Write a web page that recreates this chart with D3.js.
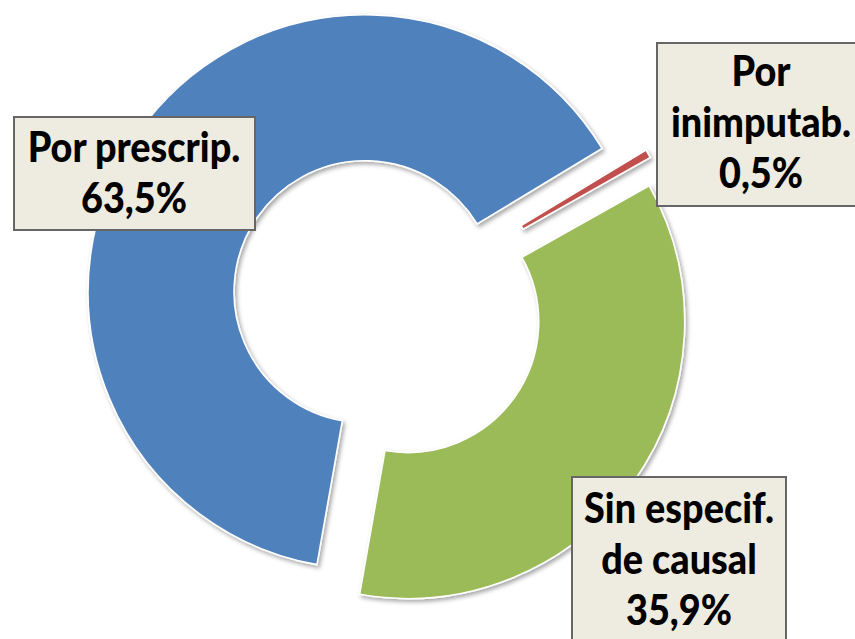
<!DOCTYPE html>
<html>
<head>
<meta charset="utf-8">
<script src="https://cdn.jsdelivr.net/npm/d3@7"></script>
<style>
  html, body { margin: 0; padding: 0; background: #fff; }
  svg { display: block; }
</style>
</head>
<body>
<svg id="chart" width="855" height="639"></svg>
<script>
// Causales (share of total, %)
const categories = ["Por prescrip.", "Por inimputab.", "Sin especif. de causal"];
const values = [63.5, 0.5, 35.9];
const labelLines = [["Por prescrip."], ["Por", "inimputab."], ["Sin especif.", "de causal"]];
const colors = ["#4F81BD", "#C0504D", "#9BBB59"];

const width = 855, height = 639;
const cx = 386.5, cy = 306.5;
const outerR = 277, innerR = 131, explode = 26;
const startDeg = 190;

const svg = d3.select("#chart");
const defs = svg.append("defs");
const shadow = defs.append("filter").attr("id", "shadow")
  .attr("x", "-20%").attr("y", "-20%").attr("width", "140%").attr("height", "140%");
shadow.append("feDropShadow")
  .attr("dx", 2).attr("dy", 2.5).attr("stdDeviation", 2)
  .attr("flood-color", "#000").attr("flood-opacity", 0.35);

const pie = d3.pie().sort(null)
  .startAngle(startDeg * Math.PI / 180)
  .endAngle((startDeg + 360) * Math.PI / 180);
const arc = d3.arc().innerRadius(innerR).outerRadius(outerR);

const arcs = pie(values);

const g = svg.append("g").attr("transform", `translate(${cx},${cy})`);
g.selectAll("path.slice")
  .data(arcs)
  .join("path")
  .attr("class", "slice")
  .attr("d", arc)
  .attr("fill", (d, i) => colors[i])
  .attr("stroke", "#fff")
  .attr("stroke-width", 1.6)
  .attr("stroke-linejoin", "miter")
  .attr("filter", "url(#shadow)")
  .attr("transform", d => {
    const a = (d.startAngle + d.endAngle) / 2;
    return `translate(${explode * Math.sin(a)},${-explode * Math.cos(a)})`;
  });

// Data labels: boxed, bold, centred lines
const pct = v => d3.format(".1f")(v).replace(".", ",") + "%";
const boxes = [
  { x: 14, y: 117, w: 241, h: 113, cxText: 134, firstBase: 162 },
  { x: 657, y: 43, w: 208, h: 163, cxText: 761, firstBase: 86 },
  { x: 572, y: 477, w: 214, h: 180, cxText: 679, firstBase: 523 }
];
const lineGap = 51;
const fontSize = 42;
const squeeze = 0.9;

const labels = svg.append("g");
arcs.forEach((d, i) => {
  const b = boxes[i];
  const lg = labels.append("g");
  lg.append("rect")
    .attr("x", b.x).attr("y", b.y).attr("width", b.w).attr("height", b.h)
    .attr("fill", "#EEECE1").attr("stroke", "#666").attr("stroke-width", 2);
  const lines = labelLines[i].concat([pct(values[i])]);
  lines.forEach((t, j) => {
    const txt = lg.append("text")
      .attr("x", b.cxText)
      .attr("y", b.firstBase + j * lineGap)
      .attr("text-anchor", "middle")
      .attr("font-family", "Lato, 'Open Sans', sans-serif")
      .attr("font-weight", 900)
      .attr("font-size", fontSize)
      .attr("fill", "#000")
      .text(t);
    const len = txt.node().getComputedTextLength();
    txt.attr("textLength", len * squeeze).attr("lengthAdjust", "spacingAndGlyphs");
  });
});
</script>
</body>
</html>
